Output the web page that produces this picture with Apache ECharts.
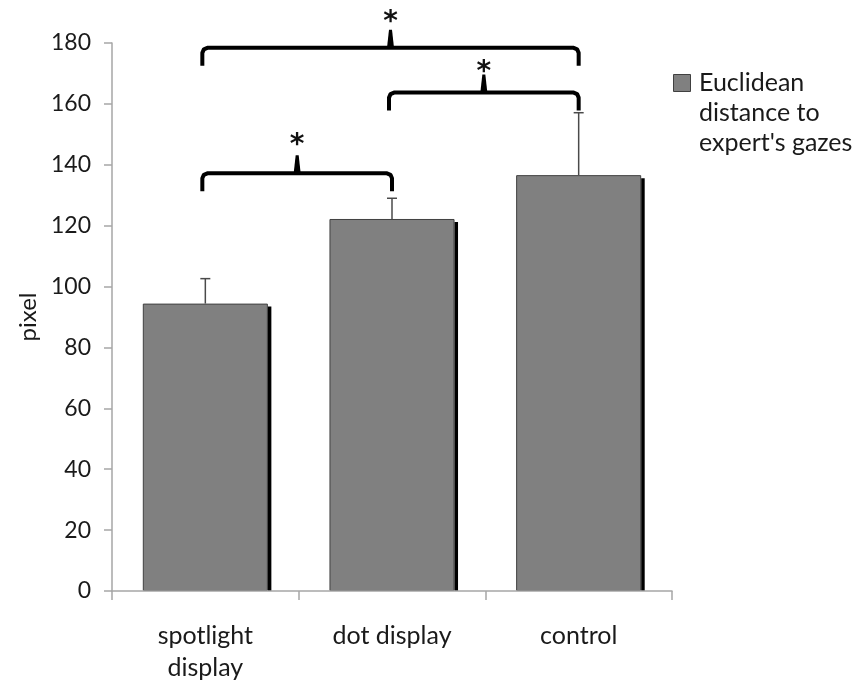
<!DOCTYPE html>
<html>
<head>
<meta charset="utf-8">
<script src="https://cdn.jsdelivr.net/npm/echarts@6/dist/echarts.min.js"></script>
<style>
  html, body { margin: 0; padding: 0; background: #fff; }
  #chart { width: 855px; height: 684px; }
</style>
</head>
<body>
<div id="chart"></div>
<script>
// values
const categories = ['spotlight\ndisplay', 'dot display', 'control'];
const means = [94.4, 122.2, 136.6];
const errUp = [8.2, 6.8, 20.5];
const yTicks = { min: 0, max: 180, interval: 20 };
// significance brackets: [from category, to category, bracket level, asterisk level]
const brackets = [
  [0, 1, 137.2, 149.0],
  [1, 2, 163.7, 172.8],
  [0, 2, 178.4, 189.2]
];
const seriesName = "Euclidean\ndistance to\nexpert's gazes";

const FONT = 'Lato';
const AXIS_GRAY = '#a6a6a6';
const BAR_FRAC = 0.67;

const chart = echarts.init(document.getElementById('chart'), null, { renderer: 'canvas' });

// error whisker + the dark drop shadow on the right side of each bar
function errorItem(params, api) {
  const i = api.value(0);
  const base = api.coord([i, api.value(1)]);
  const top = api.coord([i, api.value(1) + api.value(2)]);
  const zero = api.coord([i, 0]);
  const half = api.size([1, 0])[0] * BAR_FRAC / 2;
  return {
    type: 'group',
    children: [
      { type: 'rect', shape: { x: base[0] + half, y: base[1] + 3, width: 3.5, height: zero[1] - base[1] - 3 },
        style: { fill: '#000' } },
      { type: 'line', shape: { x1: base[0], y1: base[1], x2: top[0], y2: top[1] },
        style: { stroke: '#4a4a4a', lineWidth: 1.5 } },
      { type: 'line', shape: { x1: top[0] - 5, y1: top[1], x2: top[0] + 5, y2: top[1] },
        style: { stroke: '#4a4a4a', lineWidth: 1.5 } }
    ]
  };
}

function bracketItem(params, api) {
  const a = api.coord([api.value(0), api.value(2)]);
  const b = api.coord([api.value(1), api.value(2)]);
  const star = api.coord([api.value(0), api.value(3)]);
  const x0 = a[0] - 3, x1 = b[0], y = a[1];
  const drop = 18, r = 5, tick = 18;
  const mid = (x0 + x1) / 2;
  const pts = [
    [x0, y + drop], [x0, y + r], [x0 + 1.5, y + 1.5], [x0 + r, y],
    [x1 - r, y], [x1 - 1.5, y + 1.5], [x1, y + r], [x1, y + drop]
  ];
  return {
    type: 'group',
    children: [
      { type: 'polyline', shape: { points: pts },
        style: { stroke: '#000', lineWidth: 4, fill: null, lineJoin: 'round' } },
      { type: 'polygon', shape: { points: [[mid - 3.5, y], [mid - 1.5, y - tick], [mid + 1.5, y - tick], [mid + 3.5, y]] },
        style: { fill: '#000' } },
      { type: 'text', x: mid, y: star[1] + 8,
        style: { text: '*', fontSize: 28, fontWeight: 'bold', fontFamily: 'DejaVu Sans', fill: '#111', align: 'center', verticalAlign: 'middle' } }
    ]
  };
}

chart.setOption({
  backgroundColor: '#fff',
  animation: false,
  grid: { left: 112, right: 183, top: 43, bottom: 90 },
  xAxis: {
    type: 'category',
    data: categories,
    z: 10,
    axisLine: { lineStyle: { color: AXIS_GRAY, width: 1.5 } },
    axisTick: { show: true, length: 9, lineStyle: { color: AXIS_GRAY, width: 1.5 } },
    axisLabel: { color: '#1a1a1a', fontSize: 25, fontFamily: FONT, margin: 29, lineHeight: 32 }
  },
  yAxis: {
    type: 'value',
    min: yTicks.min, max: yTicks.max, interval: yTicks.interval,
    name: 'pixel',
    nameLocation: 'middle',
    nameGap: 58,
    nameTextStyle: { color: '#1a1a1a', fontSize: 24, fontFamily: FONT },
    axisLine: { show: true, lineStyle: { color: AXIS_GRAY, width: 1.5 } },
    axisTick: { show: true, length: 8, lineStyle: { color: AXIS_GRAY, width: 1.5 } },
    axisLabel: { color: '#1a1a1a', fontSize: 23, fontFamily: FONT, margin: 21 },
    splitLine: { show: false }
  },
  series: [
    {
      name: seriesName,
      type: 'bar',
      data: means,
      barWidth: (BAR_FRAC * 100) + '%',
      itemStyle: { color: '#808080', borderColor: '#404040', borderWidth: 1 }
    },
    {
      type: 'custom',
      renderItem: errorItem,
      data: means.map((m, i) => [i, m, errUp[i]]),
      z: 3
    },
    {
      type: 'custom',
      renderItem: bracketItem,
      clip: false,
      data: brackets,
      z: 4
    }
  ],
  graphic: [
    { type: 'rect', left: 673, top: 74, shape: { width: 17, height: 17 },
      style: { fill: '#808080', stroke: '#404040', lineWidth: 1 } },
    { type: 'text', left: 699, top: 68,
      style: { text: seriesName, fontSize: 25, fontFamily: FONT, fill: '#1a1a1a', lineHeight: 30 } }
  ]
});
</script>
</body>
</html>
